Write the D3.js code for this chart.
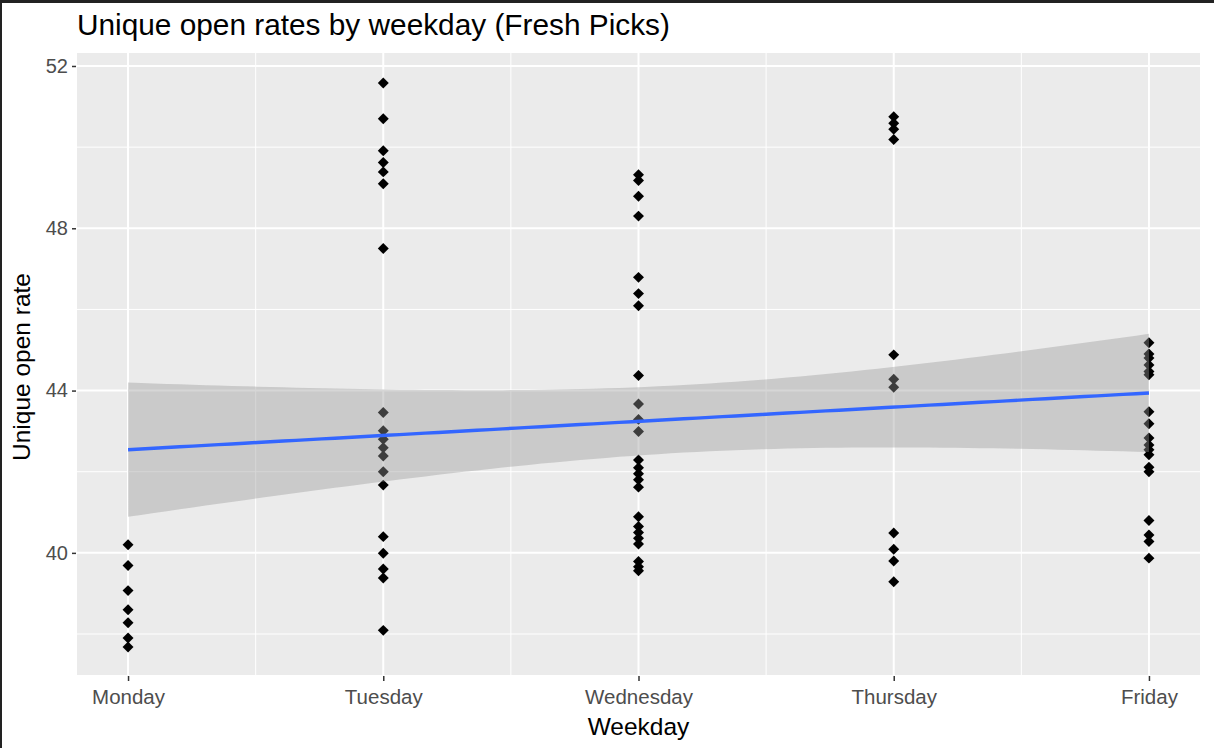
<!DOCTYPE html>
<html>
<head>
<meta charset="utf-8">
<script src="https://cdn.jsdelivr.net/npm/d3@7"></script>
<style>
  body { margin: 0; background: #ffffff; }
  svg { display: block; font-family: "Liberation Sans", Arial, sans-serif; }
</style>
</head>
<body>
<div id="chart"></div>
<script>
// categories & values
const weekdays = ["Monday", "Tuesday", "Wednesday", "Thursday", "Friday"];

const monday = [40.20, 39.69, 39.07, 38.60, 38.28, 37.90, 37.68];
const tuesday = [51.58, 50.70, 49.91, 49.62, 49.39, 49.10, 47.50, 43.46, 43.01, 42.80, 42.59,
  42.39, 42.00, 41.67, 40.40, 39.99, 39.60, 39.38, 38.09];
const wednesday = [49.32, 49.18, 48.79, 48.30, 46.79, 46.39, 46.09, 44.37, 43.67, 43.29, 42.99,
  42.29, 42.10, 41.95, 41.80, 41.62, 40.89, 40.65, 40.50, 40.36, 40.22, 39.79, 39.66, 39.56];
const thursday = [50.75, 50.59, 50.44, 50.19, 44.88, 44.28, 44.08, 40.49, 40.09, 39.80, 39.29];
const friday = [45.18, 44.90, 44.80, 44.63, 44.47, 44.39, 43.48, 43.18, 42.83, 42.66, 42.54,
  42.42, 42.11, 42.00, 40.80, 40.44, 40.28, 39.87];

const yTicks = [40, 44, 48, 52];
const yMinor = [38, 42, 46, 50];

//---------------------------------------------------------------------------------------

// mise en forme des données
const series = [monday, tuesday, wednesday, thursday, friday];
const points = series.flatMap((vals, i) => vals.map(v => ({ x: i + 1, y: v })));

// régression linéaire + intervalle de confiance 95% (geom_smooth method = lm)
const n = points.length;
const xbar = d3.mean(points, d => d.x);
const ybar = d3.mean(points, d => d.y);
const sxx = d3.sum(points, d => (d.x - xbar) ** 2);
const sxy = d3.sum(points, d => (d.x - xbar) * (d.y - ybar));
const slope = sxy / sxx;
const intercept = ybar - slope * xbar;
const sse = d3.sum(points, d => (d.y - intercept - slope * d.x) ** 2);
const s = Math.sqrt(sse / (n - 2));
const df = n - 2;
const z = 1.959964;
const tq = z + (z ** 3 + z) / (4 * df) + (5 * z ** 5 + 16 * z ** 3 + 3 * z) / (96 * df * df);

const fit = d3.range(80).map(i => {
  const x = 1 + 4 * i / 79;
  const yh = intercept + slope * x;
  const se = s * Math.sqrt(1 / n + (x - xbar) ** 2 / sxx);
  return { x, y: yh, lo: yh - tq * se, hi: yh + tq * se };
});

//---------------------------------------------------------------------------------------

// canevas
const W = 1214, H = 748;
const panel = { left: 77, right: 1200, top: 53, bottom: 675 };

const svg = d3.select("#chart")
  .append("svg")
  .attr("width", W)
  .attr("height", H)
  .attr("viewBox", [0, 0, W, H]);

svg.append("rect").attr("width", W).attr("height", H).attr("fill", "#ffffff");

const x = d3.scaleLinear().domain([0.8, 5.2]).range([panel.left, panel.right]);
const y = d3.scaleLinear().domain([36.99, 52.32]).range([panel.bottom, panel.top]);

// fond du panneau
svg.append("rect")
  .attr("x", panel.left).attr("y", panel.top)
  .attr("width", panel.right - panel.left)
  .attr("height", panel.bottom - panel.top)
  .attr("fill", "#EBEBEB");

const grid = svg.append("g");

// grille mineure
grid.selectAll(".ymin").data(yMinor).join("line")
  .attr("x1", panel.left).attr("x2", panel.right)
  .attr("y1", d => y(d)).attr("y2", d => y(d))
  .attr("stroke", "#ffffff").attr("stroke-width", 1);

grid.selectAll(".xmin").data([1.5, 2.5, 3.5, 4.5]).join("line")
  .attr("y1", panel.top).attr("y2", panel.bottom)
  .attr("x1", d => x(d)).attr("x2", d => x(d))
  .attr("stroke", "#ffffff").attr("stroke-width", 1);

// grille majeure
grid.selectAll(".ymaj").data(yTicks).join("line")
  .attr("x1", panel.left).attr("x2", panel.right)
  .attr("y1", d => y(d)).attr("y2", d => y(d))
  .attr("stroke", "#ffffff").attr("stroke-width", 2);

grid.selectAll(".xmaj").data(weekdays).join("line")
  .attr("y1", panel.top).attr("y2", panel.bottom)
  .attr("x1", (d, i) => x(i + 1)).attr("x2", (d, i) => x(i + 1))
  .attr("stroke", "#ffffff").attr("stroke-width", 2);

// points (losanges pch 18)
const diamond = d3.symbol().type(d3.symbolSquare).size(60);
svg.append("g").selectAll("path").data(points).join("path")
  .attr("d", diamond)
  .attr("transform", d => `translate(${x(d.x)},${y(d.y)}) rotate(45)`)
  .attr("fill", "#000000");

// bande de confiance
svg.append("path")
  .datum(fit)
  .attr("d", d3.area().x(d => x(d.x)).y0(d => y(d.lo)).y1(d => y(d.hi)))
  .attr("fill", "#999999")
  .attr("fill-opacity", 0.4);

// droite de régression
svg.append("path")
  .datum(fit)
  .attr("d", d3.line().x(d => x(d.x)).y(d => y(d.y)))
  .attr("fill", "none")
  .attr("stroke", "#3366FF")
  .attr("stroke-width", 3.4);

//---------------------------------------------------------------------------------------

// axes
const yAxis = d3.axisLeft(y).tickValues(yTicks).tickSize(4).tickPadding(4);
const gy = svg.append("g").attr("transform", `translate(${panel.left - 1},0)`).call(yAxis);
gy.select(".domain").remove();
gy.selectAll(".tick line").attr("stroke", "#333333").attr("stroke-width", 1.5);
gy.selectAll(".tick text").attr("fill", "#4D4D4D").style("font-size", "20px")
  .style("font-family", "Liberation Sans, Arial, sans-serif");

const xAxis = d3.axisBottom(x).tickValues([1, 2, 3, 4, 5])
  .tickFormat(d => weekdays[d - 1]).tickSize(5).tickPadding(8);
const gx = svg.append("g").attr("transform", `translate(0,${panel.bottom + 1})`).call(xAxis);
gx.select(".domain").remove();
gx.selectAll(".tick line").attr("stroke", "#333333").attr("stroke-width", 1.5);
gx.selectAll(".tick text").attr("fill", "#4D4D4D").style("font-size", "20.5px")
  .style("font-family", "Liberation Sans, Arial, sans-serif");

// titraille
svg.append("text")
  .attr("x", panel.left).attr("y", 35)
  .attr("fill", "#000000")
  .style("font-size", "29.8px")
  .text("Unique open rates by weekday (Fresh Picks)");

svg.append("text")
  .attr("x", (panel.left + panel.right) / 2).attr("y", 735)
  .attr("text-anchor", "middle")
  .attr("fill", "#000000")
  .style("font-size", "24.5px")
  .text("Weekday");

svg.append("text")
  .attr("transform", `translate(30,${(panel.top + panel.bottom) / 2 + 3}) rotate(-90)`)
  .attr("text-anchor", "middle")
  .attr("fill", "#000000")
  .style("font-size", "24.5px")
  .text("Unique open rate");

// cadre de la capture
svg.append("rect").attr("x", 0).attr("y", 0).attr("width", W).attr("height", 3).attr("fill", "#222222");
svg.append("rect").attr("x", 0).attr("y", 0).attr("width", 2).attr("height", H).attr("fill", "#222222");
</script>
</body>
</html>
